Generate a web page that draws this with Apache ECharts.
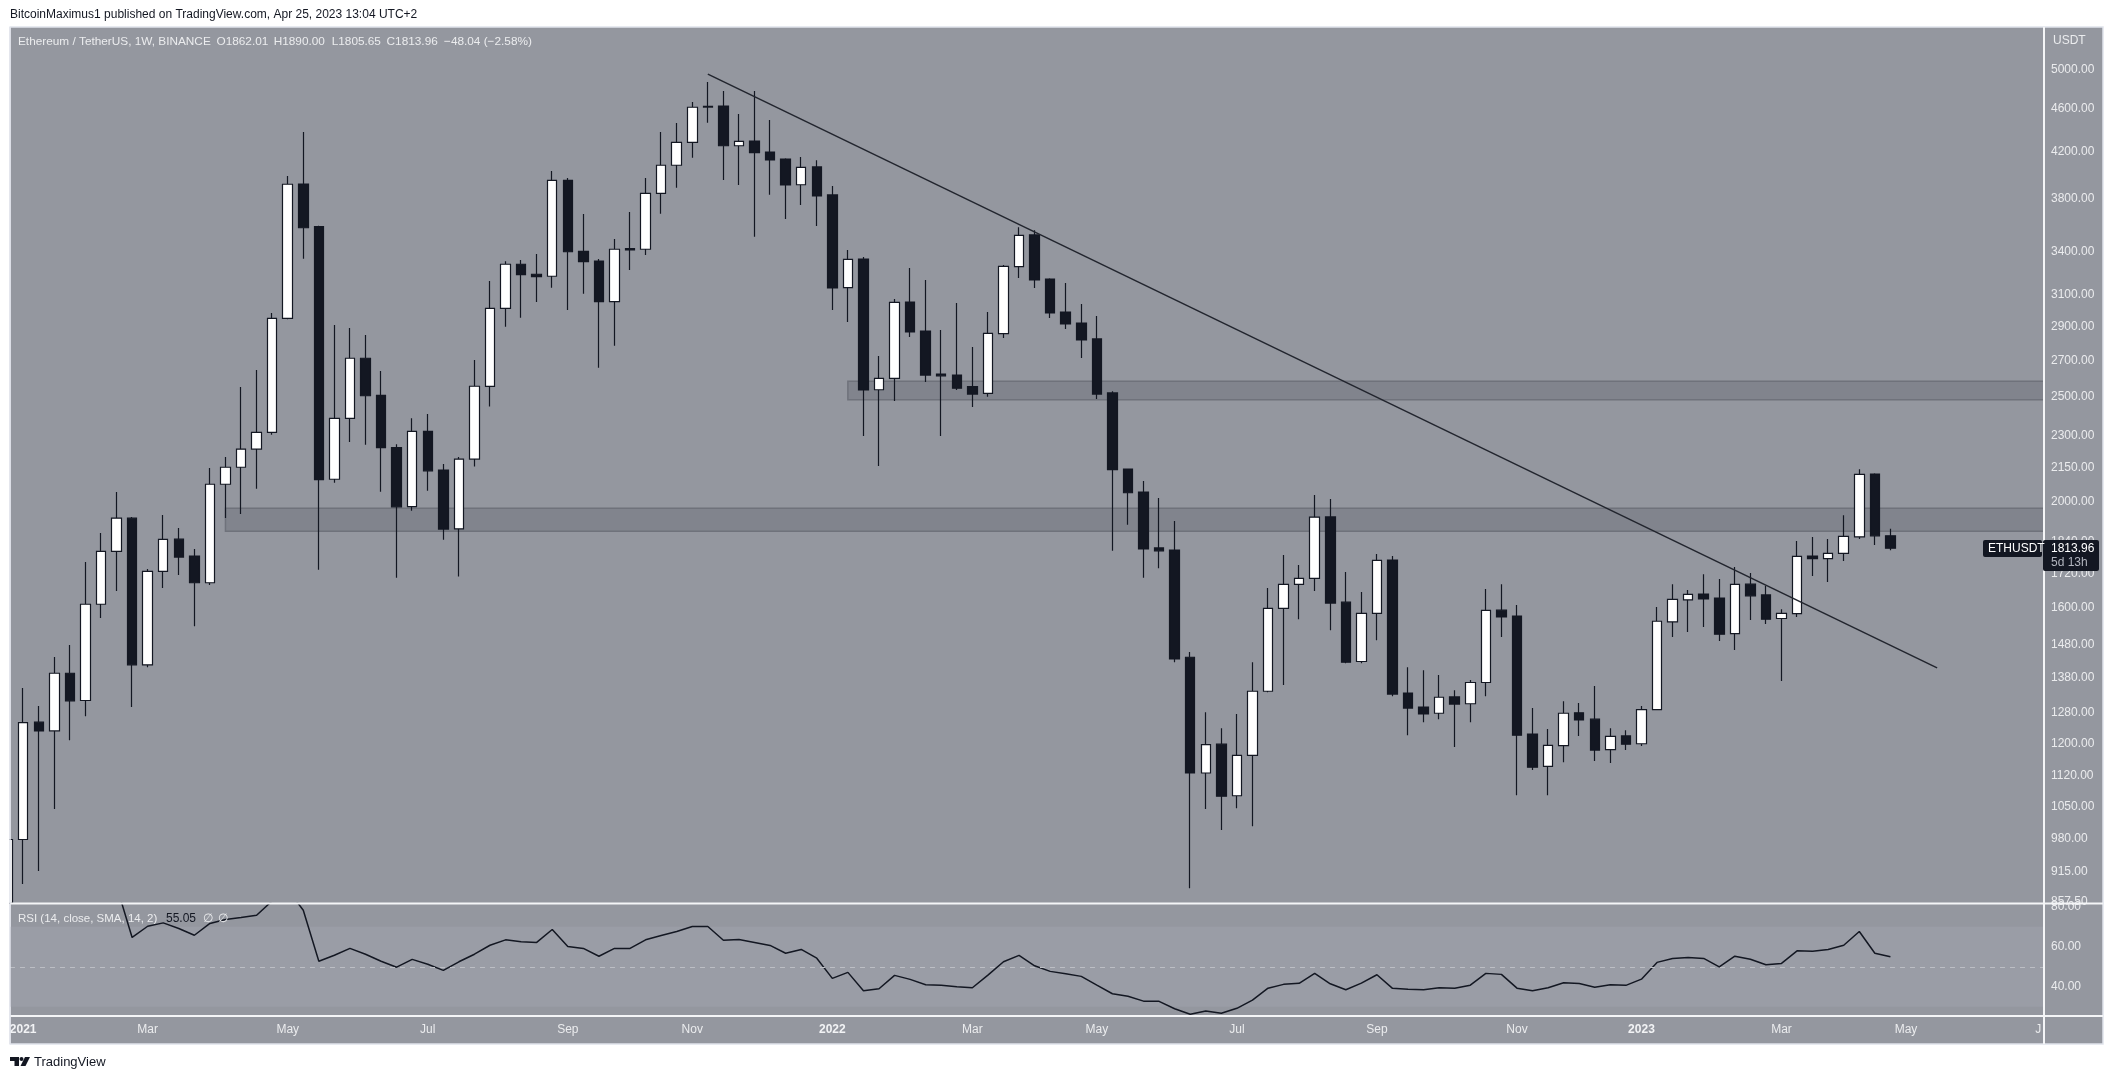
<!DOCTYPE html>
<html>
<head>
<meta charset="utf-8">
<title>ETHUSDT 1W</title>
<style>
  html, body { margin: 0; padding: 0; background: #fff; }
  #chart { width: 2113px; height: 1079px; }
</style>
<script src="https://cdn.jsdelivr.net/npm/echarts@6/dist/echarts.min.js"></script>
</head>
<body>
<div id="chart"></div>
<script>
// weekly candles, first one is the week of Dec 28 2020 (its open is below the pane, only the top shows)
var opens = [855,
  979,1255,1232,1392,1314,1611,1802,1933,1417,1727,
  1849,1784,1686,2077,2153,2237,2318,2951,3922,3583,
  2099,2388,2712,2507,2245,1981,2323,2140,1890,2190,
  2555,3014,3309,3240,3226,3953,3401,3332,3057,3411,
  3416,3845,4081,4284,4614,4626,4253,4296,4197,4135,
  3916,4066,3832,3149,3346,2537,2599,3055,2873,2623,
  2617,2554,2518,2857,3292,3521,3207,2991,2922,2825,
  2520,2145,2043,1815,1807,1440,1127,1198,1074,1170,
  1340,1597,1680,1702,1938,1618,1427,1580,1769,1335,
  1296,1279,1324,1305,1365,1591,1571,1224,1143,1194,
  1280,1263,1184,1219,1199,1289,1552,1626,1646,1632,
  1514,1681,1643,1563,1579,1784,1774,1794,1858,2122,
  1862.01];
var closes = [979,
  1254,1232,1392,1313,1611,1802,1933,1417,1727,1848,
  1780,1686,2077,2153,2237,2318,2951,3920,3575,2097,
  2388,2712,2505,2244,1980,2323,2137,1889,2190,2556,
  3014,3309,3237,3223,3953,3398,3327,3057,3416,3421,
  3845,4081,4284,4614,4623,4253,4293,4191,4127,3914,
  4063,3824,3147,3344,2536,2599,3053,2867,2617,2613,
  2545,2514,2859,3295,3518,3201,2985,2916,2819,2514,
  2142,2040,1811,1804,1435,1127,1197,1073,1170,1340,
  1597,1680,1702,1937,1615,1425,1580,1768,1332,1293,
  1277,1323,1304,1365,1590,1568,1221,1141,1195,1279,
  1261,1183,1218,1198,1289,1554,1628,1645,1629,1512,
  1680,1640,1561,1580,1783,1774,1794,1860,2121,1862,
  1813.96];
var highs = [998,
  1349,1299,1441,1478,1762,1873,2043,1938,1736,1946,
  1893,1811,2150,2200,2552,2645,2985,3989,4379,3590,
  2910,2891,2849,2640,2260,2388,2410,2168,2200,2702,
  3194,3330,3339,3382,4031,3972,3681,3346,3491,3696,
  3972,4379,4463,4666,4867,4776,4549,4776,4491,4141,
  4153,4124,3906,3411,3360,2725,3074,3283,3201,2879,
  3049,2777,2991,3304,3579,3556,3212,3180,3042,2966,
  2529,2146,2091,2017,1921,1456,1282,1239,1277,1425,
  1667,1788,1751,2030,2013,1725,1653,1792,1784,1410,
  1401,1387,1343,1372,1664,1681,1608,1293,1237,1312,
  1307,1355,1239,1234,1299,1602,1681,1660,1717,1699,
  1743,1721,1675,1594,1842,1857,1850,1945,2144,2126,
  1890];
var lows = [855,
  891,916,1044,1208,1271,1565,1657,1296,1410,1667,
  1714,1538,1678,1934,1950,2057,2307,2945,3348,1733,
  2084,2271,2258,2044,1704,1964,2049,1847,1708,2156,
  2448,2899,2955,3055,3149,3004,3109,2658,2785,3269,
  3375,3683,3891,4147,4466,3955,3914,3508,3834,3642,
  3752,3588,3004,2928,2300,2159,2477,2837,2579,2300,
  2536,2446,2500,2831,3214,3147,2953,2885,2713,2488,
  1804,1906,1704,1739,1425,883,1044,999,1046,1007,
  1337,1358,1561,1657,1525,1422,1422,1493,1326,1221,
  1255,1263,1191,1255,1326,1503,1075,1134,1075,1153,
  1219,1156,1151,1183,1193,1287,1503,1519,1535,1490,
  1462,1558,1545,1369,1568,1710,1689,1765,1850,1826,
  1805.65];
var rsiValues = [86,
  85,84,87,85,87,89,90.5,64.7,70.3,72,
  69.2,65.8,71.7,73.7,74.7,75.8,83,88.7,78.3,52.8,
  55.8,59.2,56.3,52.8,49.8,53.7,51.3,48.2,52.5,56.3,
  60.8,63.5,62.5,62.2,68.7,60.2,59.2,55.3,59.2,59.2,
  63.5,65.7,67.7,70.2,70.2,63.3,63.7,62.2,60.7,56.8,
  58.7,54.3,44.2,47.2,38,39,45.7,43.7,41,40.8,
  40,39.5,45.8,52.5,55.7,50.5,47.7,46.5,45.2,40.8,
  36.5,35.2,32.8,32.7,29,26.2,27.8,26.7,29.2,33.3,
  39.3,41.2,41.7,46.7,41.5,38.5,41.8,46,39.2,38.7,
  38.5,39.5,39.3,40.8,46.7,46.2,39.3,38,39.5,42,
  41.6,39.8,41,40.7,43.8,52.2,54.2,54.7,54.2,50,
  55.3,53.8,51,51.7,58,57.8,58.7,60.8,67.7,56.8,
  55.05];

// axis ticks
var priceTicks = [5000,4600,4200,3800,3400,3100,2900,2700,2500,2300,2150,2000,1840,1720,1600,1480,1380,1280,1200,1120,1050,980,915,857.5];
var rsiTicks = [80,60,40];
var timeTickWeeks = [0,8,17,26,35,43,52,61,69,78,87,96,104,113,121,129.5];
var timeTickLabels = ['2021','Mar','May','Jul','Sep','Nov','2022','Mar','May','Jul','Sep','Nov','2023','Mar','May','J'];

// drawings: trend line and the two grey zones
var trendWeeks = [44,123];
var trendPrices = [4950,1408];
var zoneStartWeeks = [13,53];
var zoneTops = [1974,2583];
var zoneBottoms = [1880,2484];

// week numbers: 0 is Jan 4 2021
var minWeek = -0.848, maxWeek = 129.87;
var minPrice = 854.9, maxPrice = 5468.6;
var minRsi = 25.35, maxRsi = 81.7;

var dark = '#131722', paneBg = '#94979f', bandBg = '#9a9da6', labelColor = '#ebecee', lineWhite = '#f4f5f7';
var fontName = '"Liberation Sans", sans-serif';

var candleData = opens.map(function(o,i){ return [i-1,o,closes[i],lows[i],highs[i]]; });
var rsiData = rsiValues.map(function(v,i){ return [i-1,v]; });
var trendData = trendWeeks.map(function(w,i){ return [w,trendPrices[i]]; });
var zoneData = zoneStartWeeks.map(function(w,i){
  return [{xAxis:w,yAxis:zoneTops[i]},{xAxis:maxWeek,yAxis:zoneBottoms[i]}];
});

function txt(x,y,text,color,size,extra){
  var style = {x:x,y:y,text:text,fill:color,font:(size||12)+'px '+fontName,textVerticalAlign:'middle'};
  if(extra) Object.assign(style,extra);
  return {type:'text',silent:true,z:100,style:style};
}
function hline(x1,y1,x2,y2){
  return {type:'line',silent:true,z:50,shape:{x1:x1,y1:y1,x2:x2,y2:y2},style:{stroke:lineWhite,lineWidth:2}};
}

var chart = echarts.init(document.getElementById('chart'));
chart.setOption({
  animation:false,
  backgroundColor:'#ffffff',
  grid:[
    {left:10,right:69,top:27,height:876.5},
    {left:10,right:69,top:903.5,height:112.5}
  ],
  xAxis:[
    {type:'value',gridIndex:0,min:minWeek,max:maxWeek,show:false,splitLine:{show:false}},
    {type:'value',gridIndex:1,min:minWeek,max:maxWeek,splitLine:{show:false},
      axisLine:{show:false},axisTick:{show:false},
      axisLabel:{customValues:timeTickWeeks,margin:8,color:labelColor,fontFamily:fontName,fontSize:12,
        showMinLabel:true,showMaxLabel:true,hideOverlap:false,
        formatter:function(v){
          var s = timeTickLabels[timeTickWeeks.indexOf(v)];
          return /^20/.test(s) ? '{yr|'+s+'}' : s;
        },
        rich:{yr:{fontWeight:'bold',color:'#f2f3f5',fontFamily:fontName,fontSize:12}}
      }}
  ],
  yAxis:[
    {type:'log',logBase:10,gridIndex:0,position:'right',min:minPrice,max:maxPrice,splitLine:{show:false},
      axisLine:{show:false},axisTick:{show:false},
      axisLabel:{customValues:priceTicks,margin:7,color:labelColor,fontFamily:fontName,fontSize:12,
        showMinLabel:true,showMaxLabel:true,hideOverlap:false,
        formatter:function(v){ return Number(v).toFixed(2); }}},
    {type:'value',gridIndex:1,position:'right',min:minRsi,max:maxRsi,splitLine:{show:false},
      axisLine:{show:false},axisTick:{show:false},
      axisLabel:{customValues:rsiTicks,margin:7,color:labelColor,fontFamily:fontName,fontSize:12,
        hideOverlap:false,formatter:function(v){ return Number(v).toFixed(2); }}}
  ],
  series:[
    {name:'zones',type:'line',xAxisIndex:0,yAxisIndex:0,data:[],z:1,silent:true,
      markArea:{silent:true,itemStyle:{color:'#81848d',borderColor:'#6f727b',borderWidth:1.5},data:zoneData}},
    {name:'ETHUSDT',type:'candlestick',xAxisIndex:0,yAxisIndex:0,data:candleData,
      encode:{x:0,y:[1,2,3,4]},barWidth:10,z:3,clip:true,
      itemStyle:{color:'#ffffff',color0:dark,borderColor:dark,borderColor0:dark,borderWidth:1.2}},
    {name:'trend',type:'line',xAxisIndex:0,yAxisIndex:0,data:trendData,showSymbol:false,z:4,silent:true,
      lineStyle:{color:'#22252e',width:1.5}},
    {name:'RSI',type:'line',xAxisIndex:1,yAxisIndex:1,data:rsiData,showSymbol:false,z:4,clip:true,silent:true,
      lineStyle:{color:dark,width:1.5},
      markArea:{silent:true,itemStyle:{color:bandBg},data:[[{xAxis:minWeek,yAxis:70},{xAxis:maxWeek,yAxis:30}]]},
      markLine:{silent:true,symbol:'none',label:{show:false},
        lineStyle:{color:'#bcbec4',type:[5,5],width:1},data:[{yAxis:50}]}}
  ],
  graphic:[
    // frame, pane separators
    {type:'rect',silent:true,z:-1,shape:{x:10,y:27,width:2093,height:1017},style:{fill:paneBg,stroke:'#e0e3eb',lineWidth:1.5}},
    // candlestick clip does not cut a half visible box, so mask the left margin
    {type:'rect',silent:true,z:60,shape:{x:0,y:0,width:9.3,height:1079},style:{fill:'#ffffff'}},
    {type:'line',silent:true,z:61,shape:{x1:10,y1:27,x2:10,y2:1044},style:{stroke:'#e0e3eb',lineWidth:1.5}},
    hline(10,903.5,2103,903.5),
    hline(10,1016,2103,1016),
    hline(2044,27,2044,1044),
    // header and legend
    txt(10,15,'BitcoinMaximus1 published on TradingView.com, Apr 25, 2023 13:04 UTC+2',dark,12),
    txt(18,42,'Ethereum / TetherUS, 1W, BINANCE',labelColor,11.8),
    txt(216.5,42,'O1862.01',labelColor,11.8),
    txt(273.7,42,'H1890.00',labelColor,11.8),
    txt(331.7,42,'L1805.65',labelColor,11.8),
    txt(386.6,42,'C1813.96',labelColor,11.8),
    txt(444,42,'\u221248.04 (\u22122.58%)',labelColor,11.8),
    txt(2053,41,'USDT',labelColor,12),
    txt(18,919,'RSI (14, close, SMA, 14, 2)',labelColor,11.5),
    txt(166,919,'55.05',dark,12),
    txt(203,919,'\u2205',labelColor,12),
    txt(218,919,'\u2205',labelColor,12),
    // last price tags
    {type:'rect',silent:true,z:90,shape:{x:1983,y:540,width:59,height:17,r:2},style:{fill:dark}},
    {type:'rect',silent:true,z:90,shape:{x:2043,y:540,width:56,height:31,r:2},style:{fill:dark}},
    txt(1988,548.5,'ETHUSDT','#ffffff',12),
    txt(2051,548.5,'1813.96','#ffffff',12),
    txt(2051,563,'5d 13h','#b2b5be',12),
    // TradingView mark
    {type:'polygon',silent:true,z:100,shape:{points:[[10,1057],[19,1057],[19,1066],[14.5,1066],[14.5,1061],[10,1061]]},style:{fill:dark}},
    {type:'circle',silent:true,z:100,shape:{cx:21.5,cy:1059,r:2},style:{fill:dark}},
    {type:'polygon',silent:true,z:100,shape:{points:[[25,1057],[30,1057],[25.5,1066],[20.5,1066]]},style:{fill:dark}},
    txt(34,1062,'TradingView',dark,13)
  ]
});
</script>
</body>
</html>
